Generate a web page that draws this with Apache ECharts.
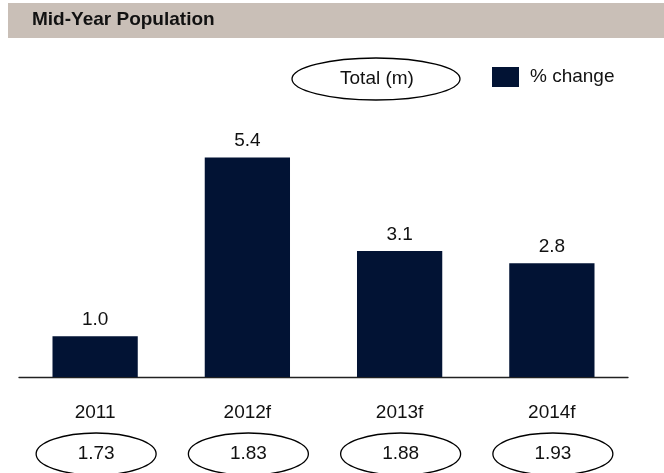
<!DOCTYPE html>
<html style="height: 100%">
   <head>
       <meta charset="utf-8">
       <title>Mid-Year Population</title>
   </head>
   <body style="height: 100%; margin: 0">
        <div id="container" style="width: 664px; height: 473px"></div>
        <script src="https://cdn.jsdelivr.net/npm/echarts@6/dist/echarts.min.js"></script>
        <script type="text/javascript">
            var years = ['2011', '2012f', '2013f', '2014f'];
            var pctChange = [1.0, 5.4, 3.1, 2.8];
            var totals = [1.73, 1.83, 1.88, 1.93];

            var font = '"Liberation Sans", Arial, sans-serif';
            var navy = '#021334';

            var myChart = echarts.init(document.getElementById('container'));

            var totalData = [];
            for (var i = 0; i < years.length; i++) {
                totalData.push([i, 0, totals[i]]);
            }

            var option = {
                animation: false,
                backgroundColor: '#fff',
                textStyle: { fontFamily: font },
                title: {
                    text: 'Mid-Year Population',
                    left: 27,
                    top: 5,
                    textStyle: { fontSize: 19, fontWeight: 'bold', color: '#111', fontFamily: font }
                },
                graphic: [
                    {
                        type: 'rect', z: -1,
                        shape: { x: 8, y: 3, width: 656, height: 35 },
                        style: { fill: '#c9bfb7' }
                    },
                    {
                        type: 'ellipse',
                        shape: { cx: 376, cy: 79, rx: 84, ry: 21 },
                        style: { fill: '#fff', stroke: '#000', lineWidth: 1.3 }
                    },
                    {
                        type: 'text',
                        x: 377, y: 79,
                        style: { text: 'Total (m)', fontSize: 19, fill: '#111', fontFamily: font, align: 'center', verticalAlign: 'middle' }
                    }
                ],
                legend: {
                    data: ['% change'],
                    left: 492,
                    top: 67,
                    padding: 0,
                    icon: 'rect',
                    itemWidth: 27,
                    itemHeight: 20,
                    textStyle: { fontSize: 19, color: '#111', fontFamily: font, padding: [0, 0, 0, 6] }
                },
                grid: { left: 19, right: 36, top: 133, bottom: 96 },
                xAxis: {
                    type: 'category',
                    data: years,
                    axisLine: { lineStyle: { color: '#222', width: 1.3 } },
                    axisTick: { show: false },
                    axisLabel: { fontSize: 19, color: '#111', margin: 26, fontFamily: font }
                },
                yAxis: {
                    type: 'value',
                    min: 0,
                    max: 6,
                    show: false,
                    splitLine: { show: false }
                },
                series: [
                    {
                        name: '% change',
                        type: 'bar',
                        data: pctChange,
                        barWidth: '56%',
                        itemStyle: { color: navy },
                        label: {
                            show: true,
                            position: 'top',
                            distance: 7,
                            fontSize: 19,
                            color: '#111',
                            fontFamily: font,
                            formatter: function (p) { return p.value.toFixed(1); }
                        }
                    },
                    {
                        name: 'Total (m)',
                        type: 'custom',
                        data: totalData,
                        encode: { x: 0, y: 1 },
                        renderItem: function (params, api) {
                            var pt = api.coord([api.value(0), 0]);
                            var cy = pt[1] + 77;
                            return {
                                type: 'group',
                                children: [
                                    {
                                        type: 'ellipse',
                                        shape: { cx: pt[0] + 1, cy: cy, rx: 60, ry: 21 },
                                        style: { fill: '#fff', stroke: '#000', lineWidth: 1.3 }
                                    },
                                    {
                                        type: 'text',
                                        x: pt[0] + 1, y: cy,
                                        style: {
                                            text: api.value(2).toFixed(2),
                                            fontSize: 19, fill: '#111', fontFamily: font,
                                            align: 'center', verticalAlign: 'middle'
                                        }
                                    }
                                ]
                            };
                        }
                    }
                ]
            };
            myChart.setOption(option, true);
       </script>
   </body>
</html>
